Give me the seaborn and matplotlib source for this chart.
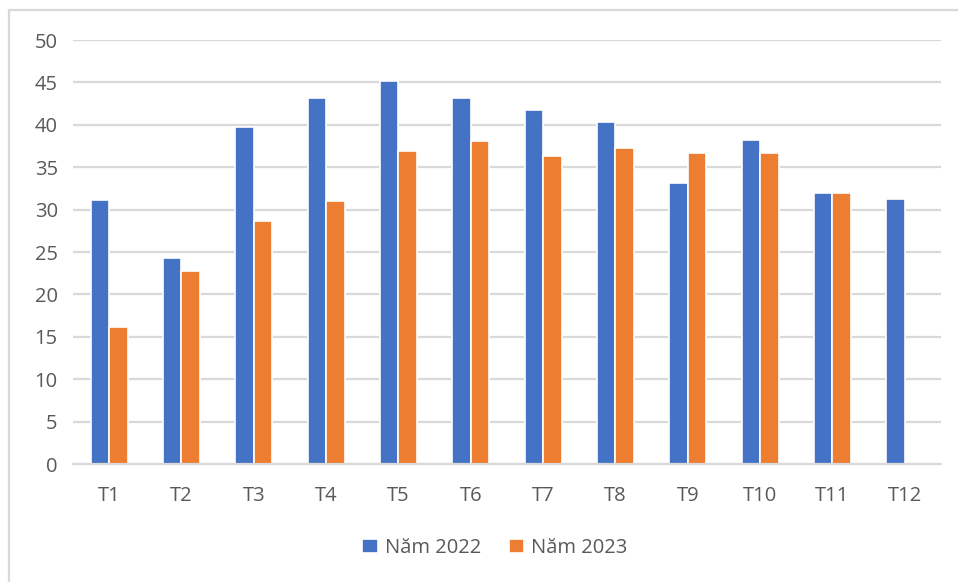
import matplotlib
matplotlib.use("Agg")
import matplotlib.pyplot as plt
from matplotlib.patches import Rectangle
import seaborn as sns
import pandas as pd
import numpy as np

months = ["T1", "T2", "T3", "T4", "T5", "T6", "T7", "T8", "T9", "T10", "T11", "T12"]
values_2022 = [31.1, 24.3, 39.7, 43.2, 45.2, 43.2, 41.7, 40.3, 33.1, 38.2, 32.0, 31.3]
values_2023 = [16.1, 22.8, 28.6, 31.0, 36.9, 38.1, 36.3, 37.3, 36.7, 36.7, 32.0, np.nan]
series_names = ["Năm 2022", "Năm 2023"]
y_ticks = [0, 5, 10, 15, 20, 25, 30, 35, 40, 45, 50]

df = pd.DataFrame({
    "Tháng": months * 2,
    "Giá trị": values_2022 + values_2023,
    "Năm": [series_names[0]] * len(months) + [series_names[1]] * len(months),
})

sns.set_theme(style="white")
plt.rcParams["font.family"] = ["Open Sans", "DejaVu Sans"]

text_color = "#595959"
grid_color = "#d9d9d9"
palette = {series_names[0]: "#4472c4", series_names[1]: "#ed7d31"}
font_size = 14.5

fig = plt.figure(figsize=(9.58, 5.82), dpi=100)
fig.patch.set_facecolor("white")
ax = fig.add_axes([73 / 958, (582 - 464) / 582, 868 / 958, 424 / 582])

sns.barplot(data=df, x="Tháng", y="Giá trị", hue="Năm", palette=palette,
            width=0.51, edgecolor="white", linewidth=1.2, ax=ax,
            legend=True, errorbar=None, saturation=1)

ax.set_ylim(0, 50)
ax.set_xlim(-0.5, len(months) - 0.5)
ax.set_yticks(y_ticks)
ax.yaxis.grid(True, color=grid_color, linewidth=1.6)
ax.set_axisbelow(True)
for side in ["top", "right", "left"]:
    ax.spines[side].set_visible(False)
ax.spines["bottom"].set_color(grid_color)
ax.spines["bottom"].set_linewidth(1.6)
ax.set_xlabel("")
ax.set_ylabel("")
ax.tick_params(axis="both", length=0, labelsize=font_size, colors=text_color)
ax.tick_params(axis="x", pad=15.5)
ax.tick_params(axis="y", pad=11)

handles, labels = ax.get_legend_handles_labels()
ax.legend(handles, labels, loc="center", bbox_to_anchor=(495 / 958, 1 - 548 / 582),
          bbox_transform=fig.transFigure, ncol=2, frameon=False, fontsize=font_size,
          handlelength=0.75, handleheight=0.75, handletextpad=0.35, columnspacing=1.4,
          labelcolor=text_color)

# Chart-area border
fig.patches.append(Rectangle((9 / 958, -0.05), 1.0, 1 - 10 / 582 + 0.05,
                             transform=fig.transFigure, fill=False,
                             edgecolor=grid_color, linewidth=1.6))

fig.savefig("out.png", dpi=100, facecolor="white")
